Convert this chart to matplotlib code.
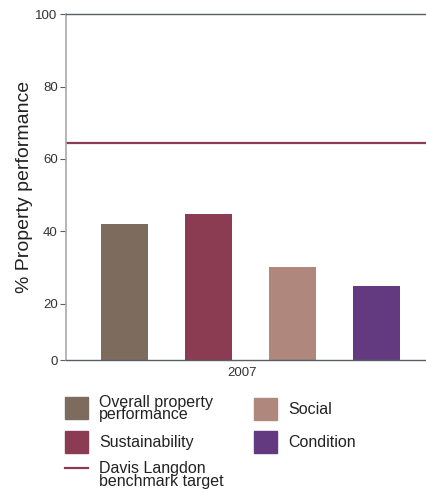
import numpy as np
import matplotlib.pyplot as plt
from matplotlib.patches import Rectangle
from matplotlib.lines import Line2D

plt.rcParams['font.family'] = ['Liberation Sans', 'DejaVu Sans']

categories = ['Overall property\nperformance', 'Sustainability', 'Social', 'Condition']
values = [42.0, 44.8, 30.2, 24.9]
colors = ['#7d6b5d', '#8b3b52', '#b0877c', '#633a7f']
year_label = '2007'
benchmark = 64.3
benchmark_label = 'Davis Langdon\nbenchmark target'
ytick_values = [20, 40, 60, 80, 100]

W, H = 426, 490
fig = plt.figure(figsize=(W / 100, H / 100), dpi=100)
ax = fig.add_axes([0.155, 0.265, 0.845, 0.706])

x = np.arange(len(values))
ax.bar(x, values, width=0.56, color=colors)
ax.axhline(benchmark, color='#8b3b52', lw=1.6)

# the original axis starts slightly above zero but labels the bottom "0"
ybottom = 4.4
ax.set_ylim(ybottom, 100)
ax.set_xlim(-0.696, 3.59)
ax.set_yticks([ybottom] + ytick_values)
ax.set_yticklabels(['0'] + [str(v) for v in ytick_values])
ax.set_xticks([1.4])
ax.set_xticklabels([year_label])

ax.spines['left'].set_color('#a8a8b0')
ax.spines['left'].set_linewidth(1.2)
for s in ['top', 'bottom']:
    ax.spines[s].set_color('#5a5e66')
    ax.spines[s].set_linewidth(1.0)
ax.spines['right'].set_visible(False)
ax.tick_params(axis='y', length=4, width=0.8, color='#5a5e66',
               labelsize=9.5, labelcolor='#333333', pad=2)
ax.tick_params(axis='x', length=0, labelsize=9.5, labelcolor='#333333', pad=5)

ax.set_ylabel('% Property performance', fontsize=14, color='#222222')
ax.yaxis.set_label_coords(-0.092, 0.5)

# legend laid out by hand so both columns share rows (pixel positions from top)
def fx(px):
    return px / W

def fy(py):
    return 1 - py / H

def legend_patch(px, py, color, label):
    fig.add_artist(Rectangle((fx(px), fy(py + 22)), fx(23), 22 / H,
                             color=color, transform=fig.transFigure))
    fig.text(fx(px + 34), fy(py + 11.5), label, fontsize=11.5, color='#222222',
             va='center', ha='left', linespacing=0.8)

legend_patch(65, 397, colors[0], categories[0])
legend_patch(65, 431, colors[1], categories[1])
legend_patch(254, 398, colors[2], categories[2])
legend_patch(254, 431, colors[3], categories[3])
fig.add_artist(Line2D([fx(65), fx(88)], [fy(468), fy(468)], color='#8b3b52',
                      lw=1.6, transform=fig.transFigure))
fig.text(fx(99), fy(475), benchmark_label, fontsize=11.5, color='#222222',
         va='center', ha='left', linespacing=0.8)

fig.savefig('out.png', dpi=100)
